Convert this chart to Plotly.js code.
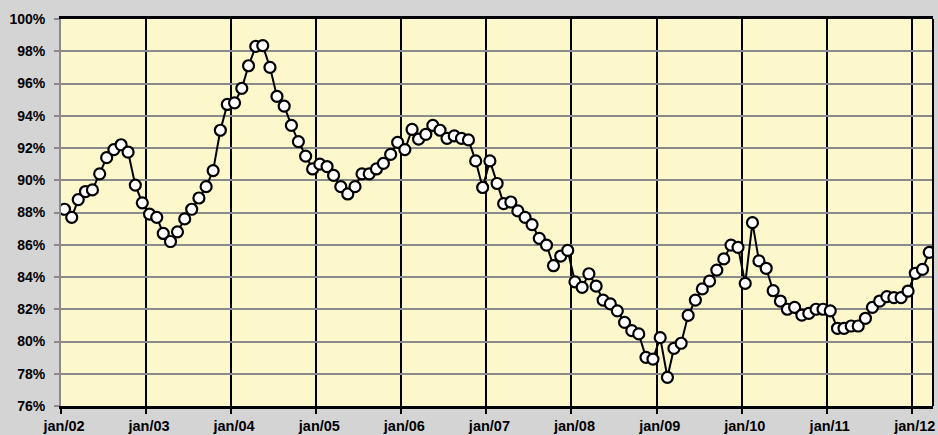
<!DOCTYPE html>
<html>
<head>
<meta charset="utf-8">
<script src="https://cdn.plot.ly/plotly-3.0.1.min.js"></script>
<style>html,body{margin:0;padding:0;background:#d4d4d4;}#chart{width:938px;height:435px;}</style>
</head>
<body>
<div id="chart"></div>
<script>
const startYear = 2002;
const v2002 = [88.2, 87.7, 88.8, 89.3, 89.4, 90.4, 91.4, 91.9, 92.2, 91.75, 89.7, 88.6];
const v2003 = [87.9, 87.7, 86.7, 86.2, 86.8, 87.6, 88.2, 88.9, 89.6, 90.6, 93.1, 94.7];
const v2004 = [94.8, 95.7, 97.1, 98.3, 98.35, 97.0, 95.2, 94.6, 93.4, 92.4, 91.5, 90.7];
const v2005 = [91.0, 90.85, 90.3, 89.6, 89.15, 89.6, 90.4, 90.4, 90.7, 91.05, 91.6, 92.35];
const v2006 = [91.9, 93.15, 92.55, 92.85, 93.4, 93.1, 92.6, 92.75, 92.6, 92.5, 91.2, 89.55];
const v2007 = [91.2, 89.8, 88.55, 88.65, 88.1, 87.7, 87.25, 86.4, 85.98, 84.7, 85.3, 85.65];
const v2008 = [83.7, 83.36, 84.2, 83.44, 82.57, 82.33, 81.9, 81.19, 80.67, 80.47, 79.02, 78.91];
const v2009 = [80.24, 77.78, 79.57, 79.89, 81.62, 82.57, 83.26, 83.75, 84.43, 85.12, 85.98, 85.84];
const v2010 = [83.6, 87.37, 85.0, 84.54, 83.15, 82.51, 82.0, 82.12, 81.64, 81.74, 82.0, 82.0];
const v2011 = [81.9, 80.82, 80.82, 80.96, 80.96, 81.44, 82.12, 82.51, 82.78, 82.72, 82.72, 83.13];
const v2012 = [84.23, 84.47, 85.53];
const tickLabels = ['jan/02','jan/03','jan/04','jan/05','jan/06','jan/07','jan/08','jan/09','jan/10','jan/11','jan/12'];
const yTicks = [76, 78, 80, 82, 84, 86, 88, 90, 92, 94, 96, 98, 100];
const yTickLabels = ['76%','78%','80%','82%','84%','86%','88%','90%','92%','94%','96%','98%','100%'];

const yearly = [v2002, v2003, v2004, v2005, v2006, v2007, v2008, v2009, v2010, v2011, v2012];
const xs = [], ys = [];
yearly.forEach((arr, yi) => {
  arr.forEach((v, mi) => {
    const mm = String(mi + 1).padStart(2, '0');
    xs.push((startYear + yi) + '-' + mm + '-16');
    ys.push(v);
  });
});
const tickVals = tickLabels.map((t, i) => (startYear + i) + '-01-01');

const trace = {
  x: xs, y: ys, type: 'scatter', mode: 'lines+markers',
  line: {color: '#000000', width: 2},
  marker: {symbol: 'circle', size: 11, color: '#ffffff', line: {color: '#000000', width: 2.2}},
  hoverinfo: 'x+y'
};

const fam = '"Liberation Sans", Arial, sans-serif';

const layout = {
  width: 938, height: 435,
  margin: {l: 61, r: 5, t: 19, b: 29},
  paper_bgcolor: '#d4d4d4',
  plot_bgcolor: '#fcf8cc',
  showlegend: false,
  font: {family: fam, size: 12, color: '#000000'},
  xaxis: {
    type: 'date',
    range: ['2002-01-01', '2012-04-01'],
    tickvals: tickVals, ticktext: tickLabels.map(t => '<b>' + t + '</b>'),
    showgrid: true, gridcolor: '#000000', gridwidth: 2,
    showline: true, linecolor: '#000000', linewidth: 3, mirror: true,
    ticks: 'outside', ticklen: 5, tickwidth: 2, tickcolor: '#000000',
    ticklabelshift: 3,
    tickfont: {family: fam, size: 14.5, color: '#000000'}, zeroline: false
  },
  yaxis: {
    range: [76, 100],
    tickvals: yTicks, ticktext: yTickLabels.map(t => '<b>' + t + '</b>'),
    showgrid: true, gridcolor: '#8a8a8a', gridwidth: 2,
    showline: true, linecolor: '#8a8a8a', linewidth: 2,
    ticks: 'outside', ticklen: 5, tickwidth: 2, tickcolor: '#8a8a8a',
    ticklabelstandoff: 6,
    tickfont: {family: fam, size: 14, color: '#000000'}, zeroline: false
  },
  shapes: [
    {type: 'line', xref: 'paper', yref: 'paper', x0: 1, x1: 1, y0: 0, y1: 1,
     line: {color: '#000000', width: 2}}
  ]
};

Plotly.newPlot('chart', [trace], layout, {displayModeBar: false, staticPlot: true});
</script>
</body>
</html>
